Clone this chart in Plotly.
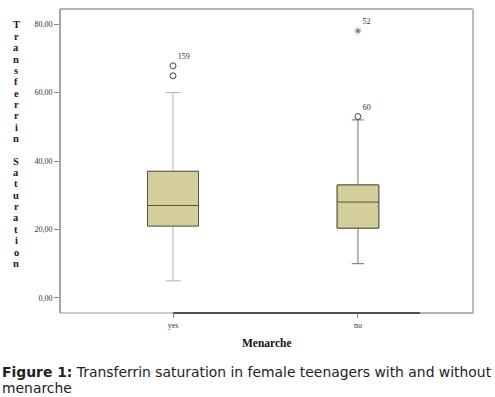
import plotly.graph_objects as go

# ---- data ----
categories = ["yes", "no"]
q1 = [21.0, 20.4]
median = [27.0, 28.0]
q3 = [37.0, 33.0]
lower_whisker = [5.0, 10.0]
upper_whisker = [60.0, 52.0]

# outliers (circles) and extremes (stars)
outlier_cat = ["yes", "yes", "no"]
outlier_val = [67.8, 64.9, 53.0]
outlier_lbl = ["159", "", "60"]
extreme_cat = ["no"]
extreme_val = [78.0]
extreme_lbl = ["52"]

y_ticks = [0, 20, 40, 60, 80]
y_tick_text = ["0,00", "20,00", "40,00", "60,00", "80,00"]

y_title = "Transferrin Saturation"
x_title = "Menarche"
caption_lines = ["<b>Figure 1:</b> Transferrin saturation in female teenagers with and without",
                 "menarche"]

box_widths = [0.276, 0.225]
whisker_colors = ["#b4b4b4", "#707070"]
box_fill = "#d4cf9a"
box_line = "#55553c"

PW, PH = 413, 304  # plot area in px

pos = {c: i for i, c in enumerate(categories)}

fig = go.Figure()
for i, c in enumerate(categories):
    fig.add_trace(go.Box(
        x=[pos[c]], q1=[q1[i]], median=[median[i]], q3=[q3[i]],
        lowerfence=[lower_whisker[i]], upperfence=[upper_whisker[i]],
        width=box_widths[i], whiskerwidth=0.3, fillcolor=box_fill,
        line=dict(color=whisker_colors[i], width=1),
        hoverinfo="skip", showlegend=False,
    ))
    fig.add_trace(go.Box(
        x=[pos[c]], q1=[q1[i]], median=[median[i]], q3=[q3[i]],
        lowerfence=[q1[i]], upperfence=[q3[i]],
        width=box_widths[i], whiskerwidth=0, fillcolor=box_fill,
        line=dict(color=box_line, width=1),
        hoverinfo="skip", showlegend=False,
    ))

fig.add_trace(go.Scatter(
    x=[pos[c] for c in outlier_cat], y=outlier_val, mode="markers+text",
    text=outlier_lbl, textposition="top right",
    textfont=dict(family="Liberation Serif", size=8, color="#333333"),
    marker=dict(symbol="circle-open", size=6, color="#444444", line=dict(width=1)),
    showlegend=False, hoverinfo="skip", cliponaxis=False,
))
fig.add_trace(go.Scatter(
    x=[pos[c] for c in extreme_cat], y=extreme_val, mode="markers+text",
    text=extreme_lbl, textposition="top right",
    textfont=dict(family="Liberation Serif", size=8, color="#333333"),
    marker=dict(symbol="asterisk-open", size=5.5, color="#555555", line=dict(width=0.8)),
    showlegend=False, hoverinfo="skip", cliponaxis=False,
))

frame = [
    dict(x0=0, x1=0, y0=0, y1=1, color="#6a6a6a", w=1.2),
    dict(x0=0, x1=1, y0=1, y1=1, color="#6a6a6a", w=1.2),
    dict(x0=1, x1=1, y0=0, y1=1, color="#bdbdbd", w=2),
    dict(x0=0, x1=0.274, y0=0, y1=0, color="#999999", w=1),
    dict(x0=0.274, x1=0.872, y0=0, y1=0, color="#1a1a1a", w=1.5),
    dict(x0=0.872, x1=1, y0=0, y1=0, color="#9a9a9a", w=1.5),
]
for f in frame:
    fig.add_shape(type="line", xref="paper", yref="paper",
                  x0=f["x0"], x1=f["x1"], y0=f["y0"], y1=f["y1"],
                  line=dict(color=f["color"], width=f["w"]))

# stacked vertical y-axis title, one letter per line
top_px, step_px = 16, 11.35
for k, ch in enumerate(y_title):
    if ch == " ":
        continue
    ypx = top_px + k * step_px
    fig.add_annotation(
        text="<b>" + ch + "</b>", xref="paper", yref="paper",
        x=-44 / PW, y=1 - ypx / PH, xanchor="center", yanchor="middle",
        showarrow=False,
        font=dict(family="Liberation Serif", size=10.5, color="#1a1a1a"),
    )

fig.add_annotation(
    text="<b>" + x_title + "</b>", xref="paper", yref="paper",
    x=0.5, y=-30 / PH, xanchor="center", yanchor="middle", showarrow=False,
    font=dict(family="Liberation Serif", size=11.5, color="#111111"),
)

for j, line in enumerate(caption_lines):
    fig.add_annotation(
        text=line, xref="paper", yref="paper",
        x=-60 / PW, y=-(59 + 16 * j) / PH,
        xanchor="left", yanchor="middle", align="left", showarrow=False,
        font=dict(family="DejaVu Sans", size=13.9, color="#222222"),
    )

fig.update_layout(
    width=495, height=397,
    margin=dict(l=60, r=22, t=9, b=84),
    paper_bgcolor="white", plot_bgcolor="white",
    boxmode="overlay",
    xaxis=dict(
        range=[-0.611, 1.622], tickvals=[pos[c] for c in categories], ticktext=categories,
        showgrid=False, zeroline=False, showline=False,
        ticks="outside", ticklen=4, tickcolor="#888888",
        tickfont=dict(family="Liberation Serif", size=8, color="#333333"),
    ),
    yaxis=dict(
        range=[-4.4, 84.4], tickvals=y_ticks, ticktext=y_tick_text,
        showgrid=False, zeroline=False, showline=False,
        ticks="outside", ticklen=5, tickcolor="#888888",
        tickfont=dict(family="Liberation Serif", size=8, color="#333333"),
    ),
)

fig.write_html("out.html", config={"displayModeBar": False},
               post_script="document.body.style.margin='0';")
